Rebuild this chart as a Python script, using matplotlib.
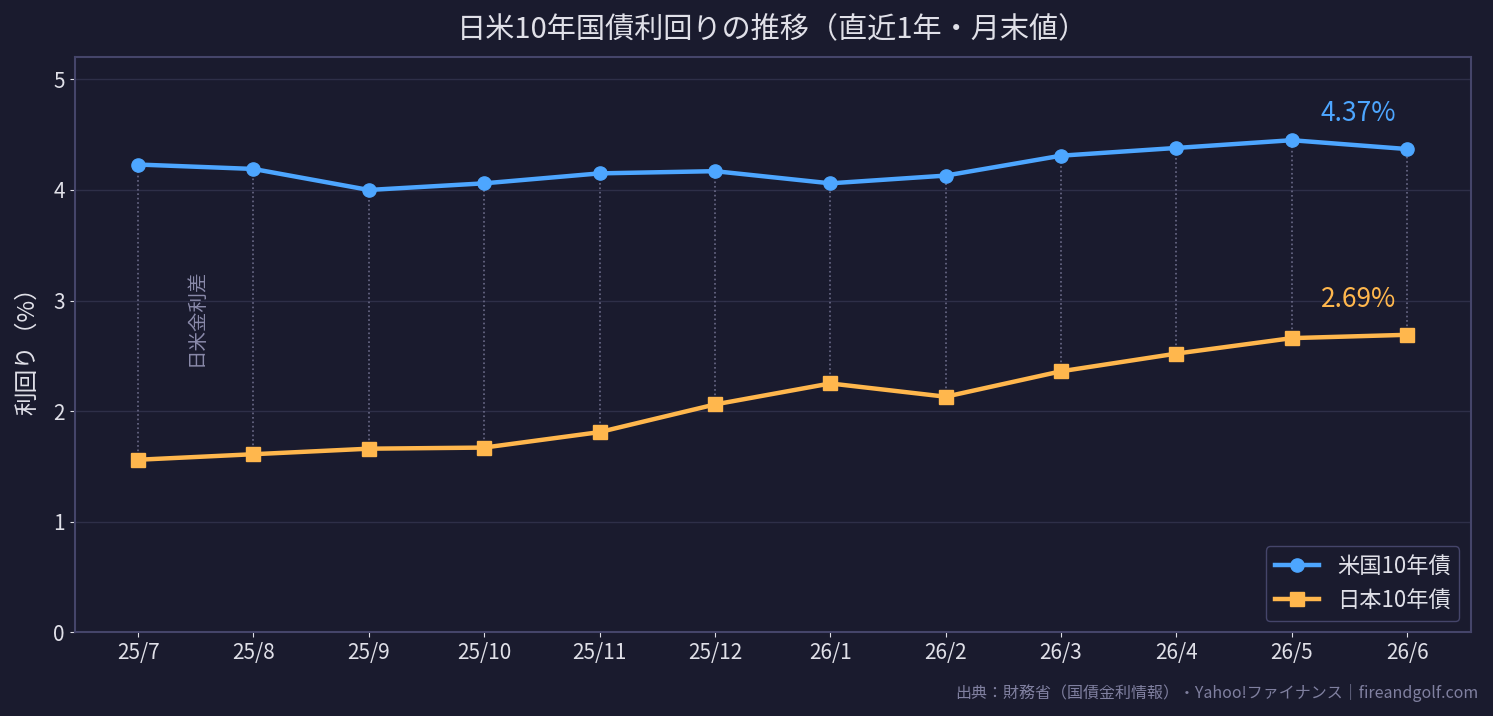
import matplotlib
matplotlib.use('Agg')
import matplotlib.pyplot as plt

plt.rcParams['font.family'] = ['Noto Sans CJK JP', 'DejaVu Sans']

months = ['25/7', '25/8', '25/9', '25/10', '25/11', '25/12',
          '26/1', '26/2', '26/3', '26/4', '26/5', '26/6']
us_10y = [4.23, 4.19, 4.00, 4.06, 4.15, 4.17, 4.06, 4.13, 4.31, 4.38, 4.45, 4.37]
jp_10y = [1.56, 1.61, 1.66, 1.67, 1.81, 2.06, 2.25, 2.13, 2.36, 2.52, 2.66, 2.69]

bg = '#1a1b2e'
blue = '#4da6ff'
orange = '#ffb74d'
txt = '#e0e0e8'

fig, ax = plt.subplots(figsize=(14.93, 7.16), dpi=100)
fig.patch.set_facecolor(bg)
ax.set_facecolor(bg)

x = list(range(len(months)))
# 金利差の縦線
for i in x:
    ax.plot([i, i], [jp_10y[i], us_10y[i]], ls=':', color='#6a6a88', lw=1.2, zorder=1)

ax.plot(x, us_10y, color=blue, lw=3.2, marker='o', ms=9.5, label='米国10年債', zorder=3)
ax.plot(x, jp_10y, color=orange, lw=3.2, marker='s', ms=9.5, label='日本10年債', zorder=3)

ax.annotate(f'{us_10y[-1]:.2f}%', (x[-1], us_10y[-1]), xytext=(-35, 16),
            textcoords='offset points', ha='center', va='bottom', color=blue, fontsize=19)
ax.annotate(f'{jp_10y[-1]:.2f}%', (x[-1], jp_10y[-1]), xytext=(-35, 16),
            textcoords='offset points', ha='center', va='bottom', color=orange, fontsize=19)

ax.text(0.5, 2.85, '日米金利差', rotation=90, ha='center', va='center',
        color='#8a8aaa', fontsize=14)

ax.set_ylim(0, 5.2)
ax.set_yticks([0, 1, 2, 3, 4, 5])
ax.set_xticks(x)
ax.set_xticklabels(months)
ax.tick_params(colors=txt, labelsize=15)
ax.grid(axis='y', color='#2e2f48', lw=1)
ax.set_axisbelow(True)
for s in ax.spines.values():
    s.set_color('#45456a')
    s.set_linewidth(1.5)

ax.set_ylabel('利回り（%）', color=txt, fontsize=17, labelpad=10)
ax.set_title('日米10年国債利回りの推移（直近1年・月末値）', color=txt, fontsize=21, pad=14)

leg = ax.legend(loc='lower right', fontsize=16, facecolor=bg, edgecolor='#45456a',
                framealpha=1)
for t in leg.get_texts():
    t.set_color(txt)

fig.text(0.99, 0.02, '出典：財務省（国債金利情報）・Yahoo!ファイナンス｜fireandgolf.com',
         ha='right', va='bottom', color='#8080a0', fontsize=11.5)

fig.subplots_adjust(left=0.05, right=0.985, top=0.92, bottom=0.117)
fig.savefig('out.png', facecolor=bg)
